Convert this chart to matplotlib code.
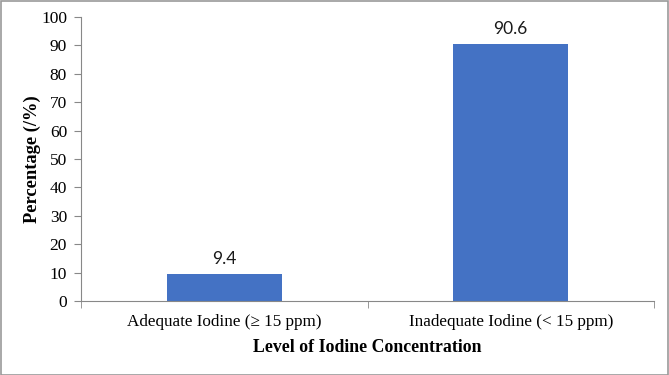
import matplotlib
matplotlib.use('Agg')
import matplotlib.pyplot as plt
from matplotlib.patches import Rectangle

categories = ['Adequate Iodine (\u2265 15 ppm)', 'Inadequate Iodine (< 15 ppm)']
percentages = [9.4, 90.6]
yticks = list(range(0, 101, 10))

plt.rcParams['font.family'] = ['Liberation Serif', 'DejaVu Serif']

fig = plt.figure(figsize=(6.69, 3.75), dpi=100)
ax = fig.add_axes([81 / 669, 1 - 301 / 375, (654 - 81) / 669, (301 - 17) / 375])

x = range(len(categories))
bars = ax.bar(x, percentages, width=0.4, color='#4472C4')
for b, v in zip(bars, percentages):
    ax.text(b.get_x() + b.get_width() / 2, v + 2.5, f'{v}', ha='center', va='bottom',
            fontsize=12.5, family=['Lato', 'DejaVu Sans'], color='#1a1a1a')

ax.set_xlim(-0.5, len(categories) - 0.5)
ax.set_ylim(0, 100)
ax.set_yticks(yticks)
ax.tick_params(axis='y', labelsize=12.5, color='#888888', length=5, pad=5)
ax.set_xticks(list(x))
ax.set_xticklabels(categories, fontsize=12.3)
ax.tick_params(axis='x', length=0, pad=9)
ax.set_xticks([-0.5, 0.5, 1.5], minor=True)
ax.tick_params(axis='x', which='minor', length=5, color='#888888')

for s in ['top', 'right']:
    ax.spines[s].set_visible(False)
ax.spines['left'].set_color('#888888')
ax.spines['bottom'].set_color('#888888')

ax.set_ylabel('Percentage (/%)', fontsize=13.3, fontweight='bold', labelpad=0)
ax.set_xlabel('Level of Iodine Concentration', fontsize=12.8, fontweight='bold', labelpad=7)

fig.patches.append(Rectangle((0.5 / 669, 0.5 / 375), 1 - 1.5 / 669, 1 - 1.5 / 375,
                             transform=fig.transFigure, fill=False, edgecolor='#999999', lw=1.2))

fig.savefig('out.png', dpi=100)
